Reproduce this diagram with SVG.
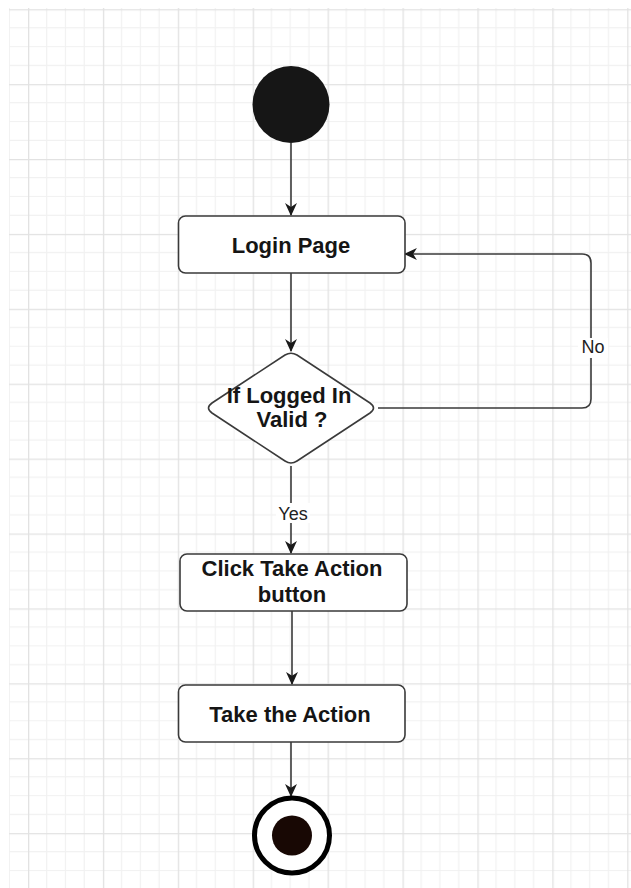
<svg xmlns="http://www.w3.org/2000/svg" width="631" height="888" viewBox="0 0 631 888">
<defs>
<pattern id="grid" patternUnits="userSpaceOnUse" x="28" y="9.2" width="74.9" height="74.9">
<path d="M18.7,0V74.9M37.45,0V74.9M56.2,0V74.9M0,18.7H74.9M0,37.45H74.9M0,56.2H74.9" stroke="#f1f1f1" stroke-width="1.2" fill="none"/>
<path d="M0.6,0V74.9M0,0.6H74.9" stroke="#e2e2e2" stroke-width="1.4" fill="none"/>
</pattern>
<marker id="arr" viewBox="0 0 12 12" refX="11" refY="6" markerWidth="13" markerHeight="13" markerUnits="userSpaceOnUse" orient="auto">
<path d="M0,0.5L12,6L0,11.5L3.5,6Z" fill="#1a1a1a"/>
</marker>
</defs>
<style>
.node{fill:#ffffff;stroke:#3a3a3a;stroke-width:1.6}
.lbl{font-family:"Liberation Sans",Arial,sans-serif;font-weight:bold;font-size:22px;fill:#151515;text-anchor:middle}
.elbl{font-family:"Liberation Sans",Arial,sans-serif;font-size:18px;fill:#222;text-anchor:middle}
.edge{fill:none;stroke:#3a3a3a;stroke-width:1.6;marker-end:url(#arr)}
</style>
<rect x="0" y="0" width="631" height="888" fill="#ffffff"/>
<rect x="9" y="8" width="622" height="880" fill="url(#grid)"/>

<g id="connectors">
<path class="edge" d="M291,143V215"/>
<path class="edge" d="M291,273V351"/>
<path class="edge" d="M378,408H582Q591,408 591,399V263Q591,254 582,254H405"/>
<path class="edge" d="M291,466V553"/>
<path class="edge" d="M292,611V684"/>
<path class="edge" d="M291,742V796"/>
<rect x="578" y="338" width="30" height="20" fill="#ffffff"/>
<text class="elbl" x="593" y="353">No</text>
<rect x="276" y="503" width="34" height="20" fill="#ffffff"/>
<text class="elbl" x="293" y="520">Yes</text>
</g>

<g id="start">
<circle cx="291" cy="104.5" r="38.5" fill="#161616"/>
</g>

<g id="login">
<rect class="node" x="178.5" y="216" width="226.5" height="57" rx="7"/>
<text class="lbl" x="291" y="253">Login Page</text>
</g>

<g id="decision">
<path class="node" d="M285,355Q291,351.5 297,355L370,403Q377,408 370,413L297,461Q291,465 285,461L212,413Q205,408 212,403Z"/>
<text class="lbl" x="289" y="403">If Logged In</text>
<text class="lbl" x="292" y="427">Valid ?</text>
</g>

<g id="click">
<rect class="node" x="180" y="554" width="227" height="57" rx="7"/>
<text class="lbl" x="292" y="576">Click Take Action</text>
<text class="lbl" x="292" y="602">button</text>
</g>

<g id="take">
<rect class="node" x="178.5" y="685" width="226.5" height="57" rx="7"/>
<text class="lbl" x="290" y="722">Take the Action</text>
</g>

<g id="end">
<circle cx="292" cy="835.5" r="37.5" fill="#ffffff" stroke="#000000" stroke-width="5"/>
<circle cx="292" cy="835.5" r="20" fill="#180804"/>
</g>
</svg>
